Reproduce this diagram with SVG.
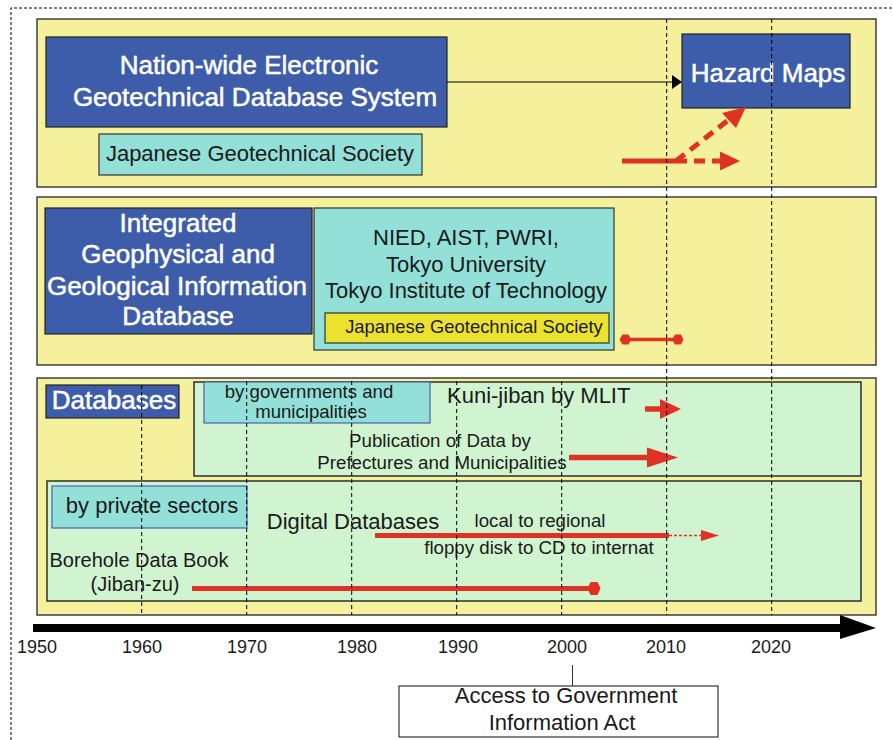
<svg xmlns="http://www.w3.org/2000/svg" width="893" height="740" viewBox="0 0 893 740">
<style>
text{font-family:"Liberation Sans",Arial,sans-serif;fill:#1a1a1a}
.panel{fill:#f5f09b;stroke:#333;stroke-width:1.4}
.blue{fill:#3d5dab;stroke:#222;stroke-width:1.2}
.cyan{fill:#93e0d9;stroke:#333;stroke-width:1.2}
.cyanb{fill:#93e0d9;stroke:#4a60b5;stroke-width:1.2}
.green{fill:#d0f4cf;stroke:#222;stroke-width:1.4}
.wt{fill:#fff;stroke:#fff;stroke-width:0.5;font-size:26px;text-anchor:middle}
.vd{stroke:#000;stroke-width:1;stroke-dasharray:4,3;fill:none}
.red{stroke:#e03223;fill:none}
.redf{fill:#e03223}
.yr{font-size:18px;text-anchor:middle}
.mid{text-anchor:middle}
</style>

<!-- outer dashed frame -->
<path d="M11,740 V8 H893" fill="none" stroke="#000" stroke-width="1" stroke-dasharray="3,2"/>

<!-- panels -->
<g id="panel-top"><rect class="panel" x="37" y="19" width="839" height="168"/></g>
<g id="panel-mid"><rect class="panel" x="37" y="197" width="839" height="168"/></g>
<g id="panel-bottom"><rect class="panel" x="37" y="378" width="839" height="237"/></g>

<g id="node-nationwide">
<rect class="blue" x="46" y="37" width="401" height="90"/>
<text class="wt" x="249" y="74">Nation-wide Electronic</text>
<text class="wt" x="255" y="106">Geotechnical Database System</text>
</g>

<g id="node-jgs-top">
<rect class="cyan" x="99" y="134" width="323" height="41"/>
<text x="260" y="161" class="mid" font-size="22">Japanese Geotechnical Society</text>
</g>

<g id="node-hazard">
<rect class="blue" x="682" y="34" width="168" height="74"/>
<text class="wt" x="768" y="82">Hazard Maps</text>
</g>

<g id="node-integrated">
<rect class="blue" x="45" y="208" width="267" height="126"/>
<text class="wt" x="178" y="232">Integrated</text>
<text class="wt" x="178" y="263">Geophysical and</text>
<text class="wt" x="177" y="295">Geological Information</text>
<text class="wt" x="178" y="325">Database</text>
</g>

<g id="node-nied">
<rect class="cyan" x="314" y="208" width="300" height="142"/>
<text x="466" y="245" class="mid" font-size="22">NIED, AIST, PWRI,</text>
<text x="466" y="272" class="mid" font-size="22">Tokyo University</text>
<text x="466" y="298" class="mid" font-size="22">Tokyo Institute of Technology</text>
</g>

<g id="node-jgs-mid">
<rect x="325" y="313" width="284" height="30" fill="#ebe230" stroke="#333" stroke-width="1.2"/>
<text x="474" y="333" class="mid" font-size="18.4">Japanese Geotechnical Society</text>
</g>

<g id="node-databases">
<rect class="blue" x="46" y="385" width="133" height="33"/>
<text class="wt" x="114" y="409">Databases</text>
</g>

<g id="node-public">
<rect class="green" x="194" y="382" width="667" height="94"/>
</g>

<g id="node-governments">
<rect class="cyanb" x="204" y="382" width="226" height="41"/>
<text x="309" y="398" class="mid" font-size="18.6">by governments and</text>
<text x="311" y="418" class="mid" font-size="18.6">municipalities</text>
</g>

<g id="node-kunijiban">
<text x="447" y="403" font-size="22">Kuni-jiban by MLIT</text>
</g>

<g id="node-publication">
<text x="440" y="447" class="mid" font-size="18.7">Publication of Data by</text>
<text x="442" y="469" class="mid" font-size="18.7">Prefectures and Municipalities</text>
</g>

<g id="node-private">
<rect class="green" x="47" y="481" width="814" height="120"/>
</g>

<g id="node-private-sectors">
<rect class="cyanb" x="52" y="486" width="195" height="42"/>
<text x="152" y="513" class="mid" font-size="22">by private sectors</text>
</g>

<g id="node-digital">
<text x="353" y="529" class="mid" font-size="22">Digital Databases</text>
<text x="540" y="527" class="mid" font-size="18.7">local to regional</text>
<text x="539" y="554" class="mid" font-size="18.7">floppy disk to CD to internat</text>
</g>

<g id="node-borehole">
<text x="139" y="567" class="mid" font-size="20">Borehole Data Book</text>
<text x="135" y="591" class="mid" font-size="20">(Jiban-zu)</text>
</g>

<!-- timeline -->
<g id="timeline">
<rect x="33" y="624" width="808" height="8" fill="#000"/>
<polygon points="840,615 876,628 840,639" fill="#000"/>
<text class="yr" x="37" y="653">1950</text>
<text class="yr" x="142" y="653">1960</text>
<text class="yr" x="247" y="653">1970</text>
<text class="yr" x="357" y="653">1980</text>
<text class="yr" x="458" y="653">1990</text>
<text class="yr" x="567" y="653">2000</text>
<text class="yr" x="666" y="653">2010</text>
<text class="yr" x="771" y="653">2020</text>
</g>

<g id="node-access">
<rect x="399" y="686" width="319" height="51" fill="#fff" stroke="#333" stroke-width="1.2"/>
<text x="566" y="703" class="mid" font-size="22">Access to Government</text>
<text x="562" y="730" class="mid" font-size="22">Information Act</text>
</g>

<g id="connectors">
<!-- black arrow to Hazard Maps -->
<line x1="447" y1="82" x2="673" y2="82" stroke="#000" stroke-width="1.2"/>
<polygon points="672,75 682,82 672,89" fill="#000"/>
<!-- red arrows top panel -->
<line class="red" x1="622" y1="161" x2="676" y2="161" stroke-width="5"/>
<line class="red" x1="676" y1="161" x2="722" y2="161" stroke-width="5" stroke-dasharray="11,7"/>
<polygon class="redf" points="720,151.5 740,161 720,170.5"/>
<line class="red" x1="676" y1="161" x2="727" y2="121" stroke-width="5" stroke-dasharray="11,7"/>
<polygon class="redf" points="722,113 746,107 736,128"/>
<!-- red bar mid panel -->
<line class="red" x1="625" y1="339.5" x2="678" y2="339.5" stroke-width="3.5"/>
<polygon class="redf" points="619.5,339.5 622.5,334.5 628.5,334.5 631,339.5 628.5,344.5 622.5,344.5"/>
<polygon class="redf" points="672,339.5 675,334.5 681,334.5 683.5,339.5 681,344.5 675,344.5"/>
<!-- kuni-jiban arrow -->
<line class="red" x1="645" y1="409" x2="662" y2="409" stroke-width="5.5"/>
<polygon class="redf" points="660,399 681,409 660,419"/>
<!-- publication arrow -->
<line class="red" x1="569" y1="457.5" x2="648" y2="457.5" stroke-width="5.5"/>
<polygon class="redf" points="647,447.5 678,457.5 647,467.5"/>
<!-- digital databases arrow -->
<line class="red" x1="375" y1="535.5" x2="669" y2="535.5" stroke-width="5"/>
<line class="red" x1="669" y1="535.5" x2="702" y2="535.5" stroke-width="1.3" stroke-dasharray="3,2"/>
<polygon class="redf" points="701,530 719,535.5 701,541"/>
<!-- borehole bar -->
<line class="red" x1="192" y1="588.5" x2="594" y2="588.5" stroke-width="5"/>
<polygon class="redf" points="587.5,588.5 590.5,582 597.5,582 600.5,588.5 597.5,595 590.5,595"/>
<!-- Access Act pointer -->
<line x1="572.5" y1="665" x2="572.5" y2="686" stroke="#333" stroke-width="1"/>
</g>

<!-- decade guide lines -->
<g id="guides">
<line class="vd" x1="141.7" y1="385" x2="141.7" y2="615"/>
<line class="vd" x1="246.7" y1="381" x2="246.7" y2="615"/>
<line class="vd" x1="351.7" y1="381" x2="351.7" y2="615"/>
<line class="vd" x1="456.7" y1="381" x2="456.7" y2="615"/>
<line class="vd" x1="561.7" y1="381" x2="561.7" y2="615"/>
<line class="vd" x1="666.7" y1="19" x2="666.7" y2="615"/>
<line class="vd" x1="771.7" y1="19" x2="771.7" y2="615"/>
</g>
</svg>
